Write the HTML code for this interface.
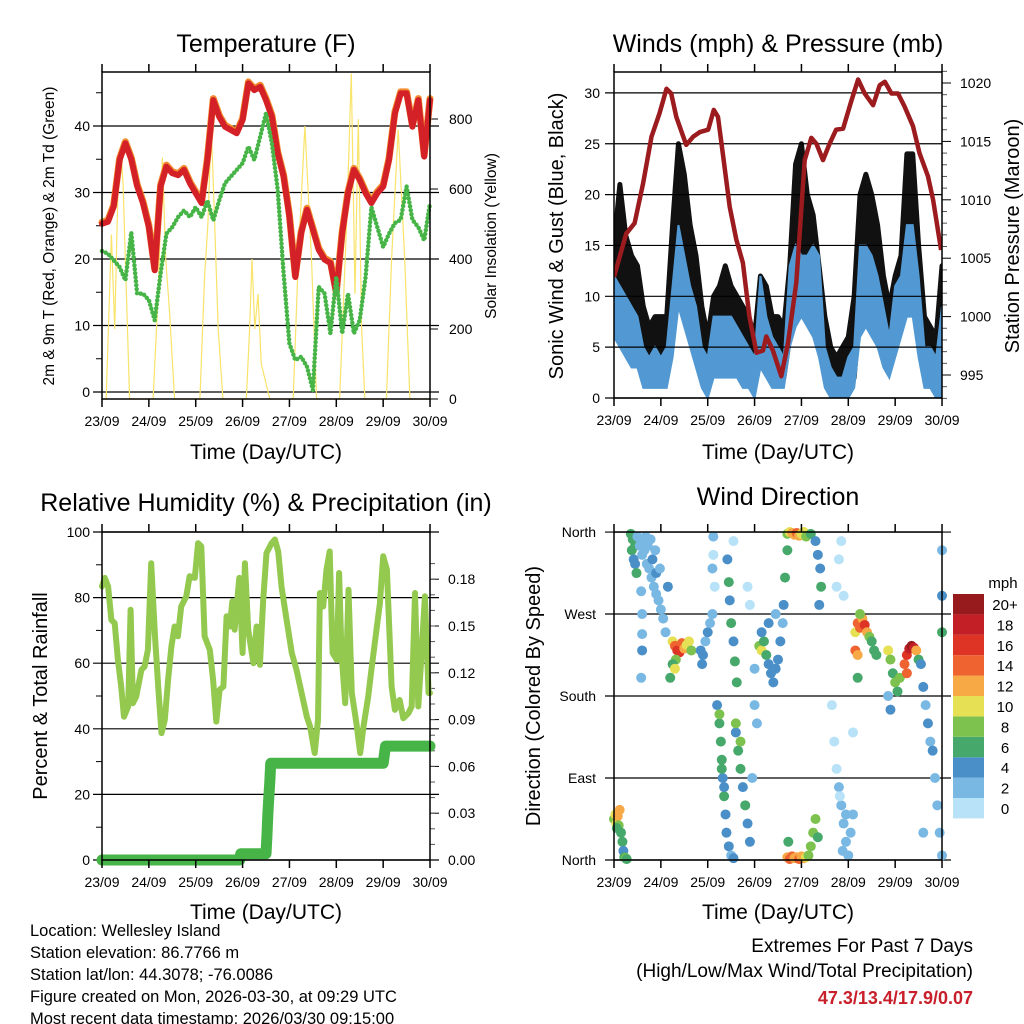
<!DOCTYPE html>
<html><head><meta charset="utf-8"><style>
body{margin:0;background:#fff}
svg{display:block;font-family:"Liberation Sans",Arial,sans-serif}
</style></head><body>
<svg id="s" width="1024" height="1024" viewBox="0 0 1024 1024" xmlns="http://www.w3.org/2000/svg"></svg>
<script>
// ---------- DATA ----------
const days=["23/09","24/09","25/09","26/09","27/09","28/09","29/09","30/09"];
const tempT=[25.3,25.6,27.9,34.9,37.4,35,31,28.4,24.8,18.3,30.9,33.9,32.9,32.6,33.4,31.4,29.9,28.4,34.9,43.9,41.4,39.9,39.4,38.9,40.9,46.4,45.4,45.9,43.9,41.4,35.9,32.4,26.4,17.3,23.9,27.4,24.4,21.4,19.9,19.4,14.8,23.9,29.9,33.4,31.9,29.9,28.4,29.9,30.9,34.9,41.9,44.9,44.9,39.9,43.9,35.4,43.9];
const dewT=[21.2,20.8,19.8,18.8,16.8,24,14.8,14.8,13.8,10.8,17.8,23.8,24.8,26.3,27.3,26.3,27.8,26.3,28.8,25.8,28.8,31.4,32.4,33.4,34.4,36.9,34.9,38.4,41.9,37.4,30.4,17.8,7.3,4.8,5.3,3.8,0.3,15.8,14.8,8.8,17.3,8.8,14.8,8.8,10.8,17.3,27.8,24.8,21.8,23.8,25.4,25.9,30.9,25.9,24.8,22.8,28.4];
const solarDay=[0,0.09,0.2,0.27,0.34,0.41,0.45,0.52,0.59,1.09,1.2,1.29,1.36,1.44,1.55,2.09,2.19,2.26,2.33,2.38,2.48,2.58,3.08,3.15,3.2,3.26,3.33,3.4,3.58,4.08,4.19,4.33,4.47,4.58,5.07,5.22,5.32,5.4,5.47,5.54,5.61,6.07,6.18,6.32,6.46,6.57,7];
const solarVal=[0,0,470,200,590,700,610,300,0,0,300,690,400,250,0,0,350,500,780,600,200,0,0,200,400,200,300,100,0,0,400,780,400,0,0,500,930,300,800,200,0,0,400,770,400,0,0];
const gustHi=[15,21,16,14,13,9,7,8,8,8,17,25,22,17,14,9,6,10,11,13,11,10,9,8,6,12,11,8,8,7,13,23,25,20,18,13,8,5,4,5,6,10,20,22,20,17,12,9,12,14,24,24,15,8,7,6,13];
const gustLo=[10,8,6,5,4,3,3,3,3,3,8,12,11,8,5,2,1,4,4,5,4,3,3,3,1,4,3,3,2,2,6,10,11,10,8,5,2,1,1,1,1,2,9,10,9,7,4,3,5,8,10,12,6,2,2,1,3];
const windHi=[12,11,10,9,8,5,4,5,4,5,11,17,14,11,9,5,4,8,8,8,8,7,6,5,4,12,8,6,5,4,13,15,14,14,15,14,5,3,2,2,4,5,15,15,14,12,9,6,11,12,17,17,12,5,5,4,9];
const windLo=[6,5,4,3,3,1,1,1,1,1,4,9,7,5,3,1,0,2,2,2,2,2,1,1,0,3,2,1,1,1,5,7,8,7,6,4,1,0,0,0,0,1,6,7,6,5,3,2,4,6,8,8,4,1,1,0,0];
const presDay=[0,.12,.26,.44,.62,.8,.97,1.12,1.22,1.33,1.54,1.69,1.83,2.01,2.13,2.22,2.33,2.47,2.61,2.75,2.89,3.04,3.18,3.25,3.39,3.57,3.71,3.89,4.07,4.21,4.32,4.46,4.6,4.74,4.89,5.06,5.21,5.35,5.53,5.67,5.78,5.92,6.06,6.2,6.38,6.52,6.7,6.81,6.98];
const presVal=[1003.4,1005.1,1007.1,1008,1011.4,1015.4,1017.4,1019.5,1019.1,1017.1,1014.7,1015.4,1015.8,1016,1017.7,1017.1,1013.7,1009.4,1006.6,1004.6,1000,996.9,997.1,998.3,997.1,994.9,997.7,1002.9,1013.4,1015.3,1014.8,1013.4,1014.8,1016,1016.1,1018.4,1020.3,1019.1,1018.1,1019.8,1020.1,1019.1,1019.1,1018,1016.3,1014,1012,1010,1005.7];
const rhDay=[0,.06,.13,.2,.27,.34,.41,.47,.56,.61,.66,.73,.84,.91,.98,1.05,1.13,1.2,1.27,1.34,1.41,1.48,1.55,1.62,1.69,1.8,1.87,1.98,2.05,2.12,2.19,2.3,2.37,2.44,2.51,2.59,2.66,2.73,2.78,2.83,2.93,3,3.05,3.12,3.23,3.3,3.37,3.44,3.51,3.62,3.69,3.76,3.83,3.94,4.05,4.15,4.26,4.37,4.44,4.54,4.61,4.65,4.72,4.79,4.86,4.92,5.01,5.06,5.11,5.19,5.26,5.33,5.43,5.51,5.58,5.68,5.75,5.83,5.93,6,6.08,6.18,6.25,6.35,6.43,6.54,6.61,6.68,6.75,6.82,6.89,6.97,7];
const rhVal=[83.4,86,83.4,73.2,72.2,61,52.9,43.7,46.8,76.3,47.8,49.8,58,59,64.1,90.5,68.2,52.9,38.7,42.7,54.9,65.1,71.2,68.2,77.3,80.4,86.5,86,96.6,95.6,68.2,64.1,54.9,42.2,51.9,52.9,74.3,71.2,78.8,70.2,86,63.1,90.5,70.2,60,71.2,59.5,79.3,93.6,96.6,97.7,94.1,83.4,73.2,63.1,58,50.9,43.7,40.7,32.6,42.7,81.4,77.3,88.5,94.1,63.1,61,87.5,63.1,47.8,82.4,50.9,41.7,32.6,40.7,49.8,58,67.1,78.3,92.6,88.5,52.9,45.8,48.8,43.2,44.8,46.8,81.4,46.8,63.1,80.4,50.9,50.9];
const rainDay=[0,2.94,2.96,3.5,3.52,3.54,3.56,3.58,3.6,6.0,6.05,7.0];
const rainVal=[0,0,0.004,0.004,0.015,0.03,0.04,0.05,0.062,0.062,0.073,0.073];
const dirPts=[[0.0,45,9],[0.03,50,11],[0.05,40,10],[0.08,48,12],[0.1,38,8],[0.12,55,13],[0.06,35,7],[0.15,30,6],[0.18,20,6],[0.2,10,5],[0.22,3,7],[0.25,2,8],[0.27,1,6],
[0.36,358,6],[0.4,352,7],[0.45,345,6],[0.38,340,6],[0.42,330,4],[0.45,325,5],[0.48,315,6],
[0.5,355,2],[0.55,345,2],[0.6,335,2],[0.65,340,3],[0.7,325,2],[0.75,320,2],[0.8,310,2],[0.85,300,2],[0.9,292,2],[0.95,285,3],[1.0,275,2],[1.05,265,2],[1.1,250,2],[0.62,350,2],[0.72,345,2],[0.82,330,4],[0.9,315,4],[1.15,300,4],[0.58,295,3],[0.6,270,3],[0.6,248,3],[0.6,230,4],[0.58,200,3],[0.68,355,2],[0.78,352,2],[0.88,340,3],[0.98,320,2],
[1.25,240,10],[1.3,235,15],[1.35,230,17],[1.4,228,16],[1.45,238,14],[1.5,232,12],[1.55,236,10],[1.6,240,10],[1.65,230,8],[1.32,220,9],[1.25,215,7],[1.2,200,6],[1.3,210,10],
[1.85,230,4],[1.9,225,4],[1.95,240,3],[2.0,250,4],[2.05,260,3],[2.1,270,2],[1.88,215,4],[2.1,320,2],[2.12,355,2],
[2.2,170,4],[2.25,150,6],[2.28,130,7],[2.3,110,6],[2.32,90,5],[2.35,70,6],[2.38,50,4],[2.4,30,5],[2.45,15,4],[2.5,5,3],[2.55,2,4],[2.25,160,8],[2.3,100,7],[2.35,80,4],
[2.6,140,4],[2.65,120,6],[2.7,100,7],[2.75,80,5],[2.8,60,6],[2.85,40,4],[2.9,20,5],[2.6,150,8],[2.7,130,8],[3.0,170,3],[3.0,210,3],[3.05,150,3],[2.95,90,2],
[2.42,330,4],[2.45,305,6],[2.47,285,4],[2.5,260,6],[2.55,240,4],[2.58,218,6],[2.62,195,6],[2.12,335,1],[2.15,300,1],[2.55,350,1],[2.85,300,1],[2.9,280,1],
[3.1,235,8],[3.15,230,10],[3.2,240,6],[3.25,225,6],[3.3,215,5],[3.35,205,4],[3.4,195,4],[3.45,210,5],[3.5,220,4],[3.55,240,4],[3.6,260,3],[3.62,280,5],[3.65,310,6],[3.7,340,6],[3.15,250,4],[3.3,260,4],[3.45,270,3],
[3.7,358,9],[3.75,360,11],[3.8,359,13],[3.85,357,12],[3.9,359,14],[3.95,356,12],[4.0,358,10],[4.05,360,11],[4.1,355,8],[4.2,358,6],[4.3,350,4],[4.35,335,4],[4.4,320,5],[4.42,300,6],[4.38,280,4],
[3.7,3,13],[3.75,1,14],[3.8,4,15],[3.85,2,13],[3.9,3,12],[3.95,1,14],[4.0,4,12],[4.05,2,13],[4.1,3,11],[4.15,5,9],[4.2,15,8],[4.25,30,8],[4.3,45,9],[4.35,25,7],[3.72,20,6],
[4.65,170,1],[4.7,130,1],[4.75,100,1],[4.8,80,2],[4.85,60,2],[4.9,40,2],[4.95,20,3],[5.0,5,2],[5.05,30,3],[5.1,50,2],[4.75,300,1],[4.8,330,1],[4.85,350,1],[4.9,290,1],[5.1,140,1],[4.82,70,1],[4.88,10,2],[4.95,50,3],
[5.15,250,11],[5.2,260,14],[5.25,255,15],[5.3,265,13],[5.35,258,16],[5.4,250,12],[5.15,230,14],[5.2,225,12],[5.45,245,8],[5.5,240,7],[5.55,230,6],[5.6,225,6],[5.2,200,6],[5.25,270,8],
[5.85,230,10],[5.9,220,8],[5.95,205,7],[6.0,195,8],[6.05,185,7],[6.1,200,9],[5.85,180,3],[5.9,165,4],
[6.2,215,14],[6.25,225,16],[6.3,232,18],[6.35,235,20],[6.4,233,19],[6.45,230,12],[6.5,220,7],[6.25,205,15],
[6.55,215,4],[6.6,190,4],[6.65,170,3],[6.7,150,4],[6.75,130,2],[6.8,120,4],[6.85,90,2],[6.9,60,2],[6.95,30,2],[7.0,250,6],[7.0,290,4],[7.0,340,2],[7.0,5,2],[6.6,30,2]];
const cbLabels=["0","2","4","6","8","10","12","14","16","18","20+"];
const cbColors=["#b7e2f7","#7ab8e4","#4a8fc7","#47a86b","#7dc24f","#e6e055","#f6a945","#ef6330","#de3426","#c21f27","#971a1c"];

// ---------- HELPERS ----------
const NS="http://www.w3.org/2000/svg";
const S=document.getElementById('s');
function el(tag,attrs,parent,txt){const e=document.createElementNS(NS,tag);for(const k in attrs)e.setAttribute(k,attrs[k]);if(txt!==undefined)e.textContent=txt;(parent||S).appendChild(e);return e;}
const DAYW=46.86;
function txt(x,y,s,size,anchor,parent,name,extra){const t=el('text',Object.assign({x:x,y:y,'font-size':size,'text-anchor':anchor||'middle',fill:'#000'},extra||{}),parent,s);

return t;}
function frame(name){
  const g=el('g',{});
  
  
  return g;
}
function xaxis(g,x0,yTop,yBot){
  days.forEach((d,i)=>{const x=x0+i*DAYW;
    el('line',{x1:x,x2:x,y1:yBot,y2:yBot+8,stroke:'#000','stroke-width':1.5},g);
    el('line',{x1:x,x2:x,y1:yTop,y2:yTop-8,stroke:'#000','stroke-width':1.5},g);
    txt(x,yBot+27,d,14,'middle',g,'x-tick-label');});
}
function box(g,x0,y0,y1){el('rect',{x:x0,y:y0,width:328,height:y1-y0,fill:'none',stroke:'#000','stroke-width':1.5},g);}
function poly(g,pts,attrs){return el('polyline',Object.assign({points:pts.map(p=>p[0].toFixed(1)+','+p[1].toFixed(1)).join(' '),fill:'none'},attrs),g);}

// ---------- PANEL 1 ----------
(function(){
  const x0=102,yT=72,yB=399;
  const sx=d=>x0+d*DAYW, sy=v=>392-6.65*v, sI=v=>399-0.35*v;
  const g=frame('temperature-panel');
  [0,10,20,30,40].forEach(v=>{el('line',{x1:x0-9,x2:x0+337,y1:sy(v),y2:sy(v),stroke:'#000','stroke-width':1.2},g);
    txt(x0-12,sy(v)+5,String(v),14,'end',g,'y-tick-label');});
  [0,200,400,600,800].forEach(v=>{el('line',{x1:x0+328,x2:x0+336,y1:sI(v),y2:sI(v),stroke:'#000'},g);
    txt(x0+347,sI(v)+5,String(v),14,'start',g,'y2-tick-label');});
  for(let v=5;v<48;v+=10)el('line',{x1:x0-6,x2:x0,y1:sy(v),y2:sy(v),stroke:'#000'},g);
  const sl=poly(g,solarDay.map((d,i)=>[sx(d),sI(solarVal[i])]),{stroke:'#f9e36a','stroke-width':1.2});
  
  
  const tp=tempT.map((v,i)=>[sx(i*0.125),sy(v)]);
  const o=poly(g,tp.map(p=>[p[0],p[1]-1.5]),{stroke:'#f28c30','stroke-width':7,'stroke-linejoin':'round','stroke-linecap':'round'});
  
  
  const r=poly(g,tp,{stroke:'#d42127','stroke-width':6,'stroke-linejoin':'round','stroke-linecap':'round'});
  
  
  const dp=poly(g,dewT.map((v,i)=>[sx(i*0.125),sy(v)]),{stroke:'#46b446','stroke-width':4.5,'stroke-dasharray':'0 4','stroke-linecap':'round'});
  
  
  box(g,x0,yT,yB); xaxis(g,x0,yT,yB);
  txt(266,52,'Temperature (F)',25,'middle',g,'temperature-title');
  txt(266,459,'Time (Day/UTC)',21,'middle',g,'x-axis-title');
  txt(0,0,'2m & 9m T (Red, Orange) & 2m Td (Green)',15.5,'middle',g,'y-axis-title',{transform:'translate(54,236) rotate(-90)'});
  txt(0,0,'Solar Insolation (Yellow)',15.5,'middle',g,'y2-axis-title',{transform:'translate(496,236) rotate(-90)'});
})();

// ---------- PANEL 2 ----------
(function(){
  const x0=614,yT=72,yB=398;
  const sx=d=>x0+d*DAYW, sy=v=>398-10.17*v, sp=p=>83+(1020-p)*11.68;
  const g=frame('winds-panel');
  const cl=document.createElementNS(NS,'clipPath');cl.setAttribute('id','c2');S.appendChild(cl);
  el('rect',{x:x0,y:yT,width:328,height:yB-yT},cl);
  [0,5,10,15,20,25,30].forEach(v=>{txt(x0-14,sy(v)+5,String(v),14,'end',g,'y-tick-label');});
  const bk=gustHi.map((v,i)=>[sx(i*0.125),sy(v)]).concat(gustLo.map((v,i)=>[sx(i*0.125),sy(v)]).reverse());
  const gb=el('polygon',{points:bk.map(p=>p.join(',')).join(' '),fill:'#111',stroke:'#111','stroke-width':5,'stroke-linejoin':'round','clip-path':'url(#c2)'},g);
  
  
  const bl=windHi.map((v,i)=>[sx(i*0.125),sy(v)]).concat(windLo.map((v,i)=>[sx(i*0.125),sy(v)]).reverse());
  const wb=el('polygon',{points:bl.map(p=>p.join(',')).join(' '),fill:'#5299d3',stroke:'#5299d3','stroke-width':2,'clip-path':'url(#c2)'},g);
  
  
  [0,5,10,15,20,25,30].forEach(v=>el('line',{x1:x0-9,x2:x0+328,y1:sy(v),y2:sy(v),stroke:'#000','stroke-width':1.2},g));
  [995,1000,1005,1010,1015,1020].forEach(p=>{el('line',{x1:x0+328,x2:x0+337,y1:sp(p),y2:sp(p),stroke:'#000'},g);
    txt(x0+346,sp(p)+5,String(p),14,'start',g,'y2-tick-label');});
  for(let p=993;p<=1021;p++)if(p%5)el('line',{x1:x0+328,x2:x0+333,y1:sp(p),y2:sp(p),stroke:'#555'},g);
  const pl=poly(g,presDay.map((d,i)=>[sx(d),sp(presVal[i])]),{stroke:'#9b1b1e','stroke-width':4.5,'stroke-linejoin':'round','clip-path':'url(#c2)'});
  
  
  box(g,x0,yT,yB); xaxis(g,x0,yT,yB);
  txt(778,52,'Winds (mph) & Pressure (mb)',25,'middle',g,'winds-title');
  txt(778,459,'Time (Day/UTC)',21,'middle',g,'x-axis-title');
  txt(0,0,'Sonic Wind & Gust (Blue, Black)',20,'middle',g,'y-axis-title',{transform:'translate(563,236) rotate(-90)'});
  txt(0,0,'Station Pressure (Maroon)',20,'middle',g,'y2-axis-title',{transform:'translate(1019,236) rotate(-90)'});
})();

// ---------- PANEL 3 ----------
(function(){
  const x0=102,yT=532,yB=860;
  const sx=d=>x0+d*DAYW, sy=v=>860-3.28*v, sr=r=>860-1560*r;
  const g=frame('humidity-panel');
  [0,20,40,60,80,100].forEach(v=>{el('line',{x1:x0-9,x2:x0+337,y1:sy(v),y2:sy(v),stroke:'#000','stroke-width':1.2},g);
    txt(x0-12,sy(v)+5,String(v),14,'end',g,'y-tick-label');});
  for(let v=10;v<100;v+=20)el('line',{x1:x0-6,x2:x0,y1:sy(v),y2:sy(v),stroke:'#000'},g);
  ['0.00','0.03','0.06','0.09','0.12','0.15','0.18'].forEach(s=>{const y=sr(parseFloat(s));
    el('line',{x1:x0+328,x2:x0+337,y1:y,y2:y,stroke:'#000'},g);
    txt(x0+346,y+5,s,14,'start',g,'y2-tick-label');});
  for(let r=0.01;r<0.2;r+=0.01){const y=sr(r);if(y>yT)el('line',{x1:x0+328,x2:x0+333,y1:y,y2:y,stroke:'#555'},g);}
  const rl=poly(g,rhDay.map((d,i)=>[sx(d),sy(rhVal[i])]),{stroke:'#93c94e','stroke-width':6,'stroke-linejoin':'round','stroke-linecap':'round'});
  
  
  const pr=poly(g,rainDay.map((d,i)=>[sx(d),sr(rainVal[i])]),{stroke:'#46b446','stroke-width':11,'stroke-linejoin':'round','stroke-linecap':'round'});
  
  
  box(g,x0,yT,yB); xaxis(g,x0,yT,yB);
  txt(266,511,'Relative Humidity (%) & Precipitation (in)',25,'middle',g,'humidity-title');
  txt(266,919,'Time (Day/UTC)',21,'middle',g,'x-axis-title');
  txt(0,0,'Percent & Total Rainfall',20,'middle',g,'y-axis-title',{transform:'translate(47,696) rotate(-90)'});
})();

// ---------- PANEL 4 ----------
(function(){
  const x0=614,yT=532,yB=860;
  const sx=d=>x0+d*DAYW, sy=deg=>860-0.911*deg;
  const g=frame('wind-direction-panel');
  [['North',0],['East',90],['South',180],['West',270],['North',360]].forEach(a=>{
    el('line',{x1:x0-9,x2:x0+337,y1:sy(a[1]),y2:sy(a[1]),stroke:'#000','stroke-width':1.2},g);
    txt(x0-18,sy(a[1])+5,a[0],14,'end',g,'direction-tick-label');});
  dirPts.forEach(p=>{const k=Math.max(0,Math.min(10,Math.floor(p[2]/2)));
    const c=el('circle',{cx:sx(p[0]),cy:sy(p[1]),r:5,fill:cbColors[k]},g);
    
    });
  box(g,x0,yT,yB); xaxis(g,x0,yT,yB);
  txt(778,505,'Wind Direction',25,'middle',g,'wind-direction-title');
  txt(778,919,'Time (Day/UTC)',21,'middle',g,'x-axis-title');
  txt(0,0,'Direction (Colored By Speed)',20,'middle',g,'y-axis-title',{transform:'translate(540,696) rotate(-90)'});
  const cb=el('g',{},S);
  
  
  txt(1003,588,'mph',15,'middle',cb,'colorbar-unit');
  cbColors.forEach((c,i)=>{const y=594+(10-i)*20.4;
    el('rect',{x:953,y:y,width:31,height:20.4,fill:c},cb);
    txt(1005,y+16,cbLabels[i],15,'middle',cb,'colorbar-label');});
})();

// ---------- FOOTER ----------
const ft=el('g',{});


['Location: Wellesley Island','Station elevation: 86.7766 m','Station lat/lon: 44.3078; -76.0086','Figure created on Mon, 2026-03-30, at 09:29 UTC','Most recent data timestamp: 2026/03/30 09:15:00'].forEach((s,i)=>txt(30,936+i*22,s,16.5,'start',ft,'info-line'));
const ex=el('g',{});


txt(973,952,'Extremes For Past 7 Days',19,'end',ex,'extremes-title');
txt(973,977,'(High/Low/Max Wind/Total Precipitation)',19,'end',ex,'extremes-subtitle');
txt(973,1004,'47.3/13.4/17.9/0.07',18,'end',ex,'extremes-values',{fill:'#c8202a','font-weight':'bold'});
</script>
</body></html>
